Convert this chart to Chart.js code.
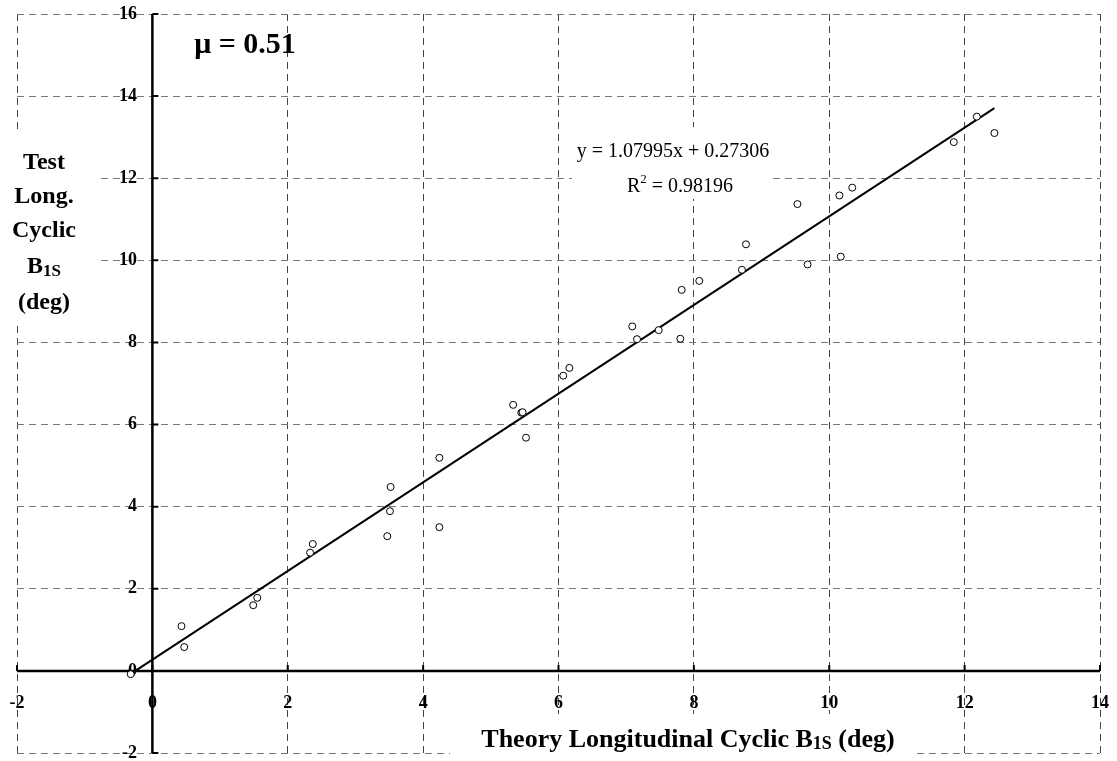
<!DOCTYPE html>
<html>
<head>
<meta charset="utf-8">
<script src="https://cdn.jsdelivr.net/npm/chart.js@4.4.0/dist/chart.umd.min.js"></script>
<style>
  html, body { margin: 0; padding: 0; background: #fff; }
  #wrap { width: 1117px; height: 761px; }
</style>
</head>
<body>
<div id="wrap"><canvas id="B1s"></canvas></div>
<script>
// theory vs test longitudinal cyclic, mu = 0.51
const theoryB1s = [-0.32, 0.43, 0.47, 1.49, 1.55, 2.33, 2.37, 3.47, 3.51, 3.52, 4.24, 4.24,
  5.33, 5.45, 5.47, 5.52, 6.07, 6.16, 7.09, 7.16, 7.48, 7.80, 7.82, 8.08, 8.71, 8.77,
  9.53, 9.68, 10.15, 10.17, 10.34, 11.84, 12.18, 12.44];
const testB1s = [-0.08, 1.09, 0.58, 1.60, 1.78, 2.88, 3.09, 3.28, 3.89, 4.48, 5.19, 3.50,
  6.48, 6.29, 6.30, 5.68, 7.19, 7.38, 8.39, 8.08, 8.30, 8.09, 9.28, 9.50, 9.77, 10.39,
  11.37, 9.90, 11.58, 10.09, 11.77, 12.88, 13.50, 13.10];
const xTicks = [-2, 0, 2, 4, 6, 8, 10, 12, 14];
const yTicks = [-2, 0, 2, 4, 6, 8, 10, 12, 14, 16];
const fitSlope = 1.07995;
const fitIntercept = 0.27306;
const fitR2 = "0.98196";
const muLabel = "\u03bc = 0.51";

const points = theoryB1s.map((x, i) => ({ x, y: testB1s[i] }));
const xLo = Math.min(...theoryB1s), xHi = Math.max(...theoryB1s);
const fitLine = [xLo, xHi].map(x => ({ x, y: fitSlope * x + fitIntercept }));

const SERIF = "'Liberation Serif', 'Times New Roman', serif";

// draws text pieces with a subscript part, centred on cx
function drawSub(ctx, parts, cx, y, size) {
  let w = 0;
  parts.forEach(p => {
    ctx.font = "bold " + (p.sub ? Math.round(size * 0.7) : size) + "px " + SERIF;
    p.w = ctx.measureText(p.t).width;
    w += p.w;
  });
  let x = cx - w / 2;
  ctx.textAlign = "left";
  parts.forEach(p => {
    ctx.font = "bold " + (p.sub ? Math.round(size * 0.7) : size) + "px " + SERIF;
    ctx.fillText(p.t, x, p.sub ? y + size * 0.18 : y);
    x += p.w;
  });
}

const axesPlugin = {
  id: "crossAxes",
  beforeDatasetsDraw(chart) {
    const { ctx, scales: { x, y } } = chart;
    const x0 = x.getPixelForValue(0), y0 = y.getPixelForValue(0);
    ctx.save();
    ctx.fillStyle = "#fff";
    // boxes behind the titles and the fit text
    ctx.fillRect(0, 130, 96, 196);
    ctx.fillRect(450, 714, 466, 47);
    ctx.fillRect(572, 127, 200, 72);

    // tick labels
    ctx.fillStyle = "#000";
    ctx.font = "bold 18px " + SERIF;
    ctx.textBaseline = "middle";
    ctx.textAlign = "center";
    xTicks.forEach(v => ctx.fillText(String(v), x.getPixelForValue(v), 703));
    ctx.textAlign = "right";
    yTicks.forEach(v => ctx.fillText(String(v), 137, y.getPixelForValue(v)));

    // axes through the origin
    ctx.strokeStyle = "#000";
    ctx.lineWidth = 2.5;
    ctx.beginPath();
    ctx.moveTo(x.left, y0); ctx.lineTo(x.right, y0);
    ctx.moveTo(x0, y.top); ctx.lineTo(x0, y.bottom);
    ctx.stroke();
    ctx.lineWidth = 2;
    ctx.beginPath();
    xTicks.forEach(v => { const p = x.getPixelForValue(v); ctx.moveTo(p, y0); ctx.lineTo(p, y0 - 6); });
    yTicks.forEach(v => { const p = y.getPixelForValue(v); ctx.moveTo(x0, p); ctx.lineTo(x0 + 6, p); });
    ctx.stroke();

    // titles
    ctx.textBaseline = "middle";
    ctx.textAlign = "center";
    ctx.font = "bold 24px " + SERIF;
    ["Test", "Long.", "Cyclic"].forEach((t, i) => ctx.fillText(t, 44, 163 + i * 34));
    drawSub(ctx, [{ t: "B" }, { t: "1S", sub: true }], 44, 267, 24);
    ctx.textAlign = "center";
    ctx.font = "bold 24px " + SERIF;
    ctx.fillText("(deg)", 44, 303);
    drawSub(ctx, [{ t: "Theory Longitudinal Cyclic B" }, { t: "1S", sub: true }, { t: " (deg)" }], 688, 740, 26);

    ctx.textAlign = "center";
    ctx.font = "bold 30px " + SERIF;
    ctx.fillText(muLabel, 245, 45);

    // fit equation
    ctx.font = "20px " + SERIF;
    ctx.fillText("y = " + fitSlope + "x + " + fitIntercept, 673, 152);
    const rTxt = " = " + fitR2;
    const wR = ctx.measureText("R").width, wRest = ctx.measureText(rTxt).width;
    ctx.font = "13px " + SERIF;
    const w2 = ctx.measureText("2").width;
    let sx = 680 - (wR + w2 + wRest) / 2;
    ctx.textAlign = "left";
    ctx.font = "20px " + SERIF;
    ctx.fillText("R", sx, 187);
    ctx.font = "13px " + SERIF;
    ctx.fillText("2", sx + wR, 180);
    ctx.font = "20px " + SERIF;
    ctx.fillText(rTxt, sx + wR + w2, 187);
    ctx.restore();
  }
};

new Chart("B1s", {
  type: "scatter",
  data: {
    datasets: [
      {
        label: "Test vs theory",
        data: points,
        pointStyle: "circle",
        pointRadius: 3.5,
        borderWidth: 1,
        borderColor: "#000",
        backgroundColor: "#fff"
      },
      {
        type: "line",
        label: "Linear fit",
        data: fitLine,
        showLine: true,
        pointRadius: 0,
        borderWidth: 2,
        borderColor: "#000",
        fill: false
      }
    ]
  },
  options: {
    responsive: true,
    maintainAspectRatio: false,
    animation: false,
    layout: { padding: { left: 17, right: 17, top: 14, bottom: 8 }, autoPadding: false },
    plugins: { legend: { display: false }, tooltip: { enabled: false } },
    scales: {
      x: {
        type: "linear", min: -2, max: 14,
        ticks: { stepSize: 2, display: false },
        grid: { color: "#444", lineWidth: 1, drawTicks: false },
        border: { display: false, dash: [7, 5] }
      },
      y: {
        type: "linear", min: -2, max: 16,
        ticks: { stepSize: 2, display: false },
        grid: { color: "#777", lineWidth: 1, drawTicks: false },
        border: { display: false, dash: [7, 5] }
      }
    }
  },
  plugins: [axesPlugin]
});
</script>
</body>
</html>
